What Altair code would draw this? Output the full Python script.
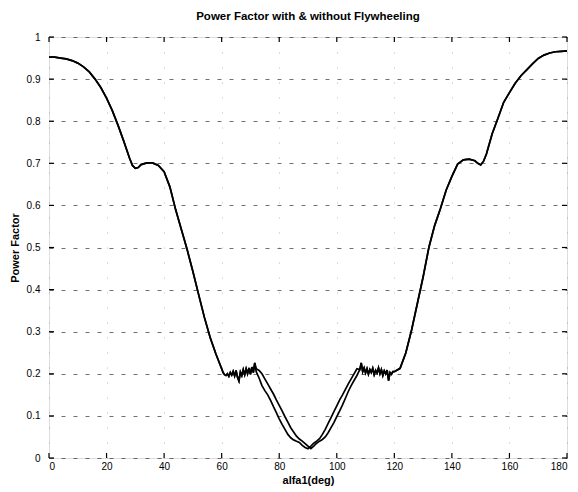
import altair as alt
import pandas as pd

# ---- data ----
alfa_left = [0, 2, 4, 6, 8, 10, 12, 14, 16, 18, 20, 22, 24, 26, 28, 29, 30, 31, 32, 34, 36, 38, 40,
             42, 44, 46, 48, 50, 52, 54, 56, 58, 60, 60.5, 61, 61.5, 62, 62.5, 63, 63.5, 64, 64.5,
             65, 65.5, 66, 66.5, 67, 67.5, 68, 68.5, 69, 69.5, 70, 70.5, 71, 71.5]
pf_left = [0.952, 0.952, 0.950, 0.948, 0.944, 0.938, 0.929, 0.917, 0.900, 0.880, 0.855, 0.825, 0.790,
           0.752, 0.712, 0.695, 0.688, 0.690, 0.697, 0.701, 0.701, 0.695, 0.680, 0.644, 0.590, 0.543,
           0.495, 0.443, 0.388, 0.334, 0.286, 0.247, 0.212, 0.203, 0.198, 0.196, 0.200, 0.194, 0.203,
           0.197, 0.206, 0.195, 0.208, 0.192, 0.183, 0.204, 0.196, 0.210, 0.198, 0.212, 0.200, 0.214,
           0.199, 0.216, 0.203, 0.226]

alfa_mid = list(range(72, 108))
pf_mid_with = [0.205, 0.190, 0.172, 0.160, 0.150, 0.137, 0.122, 0.108, 0.093, 0.080, 0.068, 0.056,
               0.048, 0.043, 0.040, 0.037, 0.030, 0.025, 0.022, 0.028, 0.035, 0.040, 0.046, 0.056,
               0.068, 0.082, 0.096, 0.110, 0.124, 0.138, 0.150, 0.163, 0.176, 0.188, 0.200, 0.212]
pf_mid_without = [0.212, 0.208, 0.200, 0.188, 0.176, 0.164, 0.152, 0.138, 0.125, 0.112, 0.098, 0.085,
                  0.072, 0.062, 0.052, 0.045, 0.040, 0.034, 0.028, 0.022, 0.028, 0.035, 0.040, 0.044,
                  0.050, 0.060, 0.072, 0.084, 0.098, 0.112, 0.126, 0.142, 0.158, 0.172, 0.184, 0.196]

alfa_right = [108, 108.5, 109, 109.5, 110, 110.5, 111, 111.5, 112, 112.5, 113, 113.5, 114, 114.5, 115,
              115.5, 116, 116.5, 117, 117.5, 118, 118.5, 119, 119.5, 120, 122, 124, 126, 128, 130, 132,
              134, 136, 138, 140, 142, 144, 146, 148, 149, 150, 151, 152, 154, 156, 158, 160, 162, 164,
              166, 168, 170, 172, 174, 176, 178, 180]
pf_right = [0.210, 0.226, 0.205, 0.214, 0.202, 0.212, 0.199, 0.210, 0.203, 0.213, 0.198, 0.208, 0.202,
            0.214, 0.200, 0.210, 0.196, 0.207, 0.200, 0.209, 0.184, 0.203, 0.199, 0.205, 0.205, 0.213,
            0.250, 0.304, 0.367, 0.430, 0.500, 0.552, 0.592, 0.636, 0.669, 0.698, 0.708, 0.710, 0.706,
            0.700, 0.696, 0.705, 0.722, 0.770, 0.807, 0.845, 0.868, 0.890, 0.908, 0.922, 0.936, 0.949,
            0.957, 0.962, 0.965, 0.966, 0.967]

x_ticks = [0, 20, 40, 60, 80, 100, 120, 140, 160, 180]
y_ticks = [0, 0.1, 0.2, 0.3, 0.4, 0.5, 0.6, 0.7, 0.8, 0.9, 1]

# ---- tables ----
alfa_all = alfa_left + alfa_mid + alfa_right
rows = []
for name, mid in (("with", pf_mid_with), ("without", pf_mid_without)):
    vals = pf_left + mid + pf_right
    for i, (a, p) in enumerate(zip(alfa_all, vals)):
        rows.append({"alfa": a, "pf": p, "series": name, "order": i})
df = pd.DataFrame(rows)

xt = pd.DataFrame({"x": x_ticks})
yt = pd.DataFrame({"y": y_ticks})

font = "Liberation Sans"
xscale = alt.Scale(domain=[0, 180], nice=False, zero=False)
yscale = alt.Scale(domain=[0, 1], nice=False, zero=False)

lines = alt.Chart(df).mark_line(color="black", strokeWidth=1.7).encode(
    x=alt.X("alfa:Q", scale=xscale,
            axis=alt.Axis(values=x_ticks, title="alfa1(deg)", grid=True, gridDash=[1, 14],
                          gridColor="#666", gridOpacity=0.45, ticks=False, tickSize=0,
                          domain=False, labelPadding=3, titlePadding=3)),
    y=alt.Y("pf:Q", scale=yscale,
            axis=alt.Axis(values=y_ticks, title="Power Factor", grid=True, gridDash=[4, 8],
                          gridColor="#333", gridOpacity=0.7, ticks=False, tickSize=0,
                          domain=False, labelPadding=9, titlePadding=6,
                          labelExpr="datum.value == 0 ? '0' : datum.value == 1 ? '1' : format(datum.value, '.1f')")),
    detail="series:N",
    order="order:Q",
)

tick_len_y = 0.012
tick_len_x = 1.75

bottom_ticks = alt.Chart(xt).mark_rule(color="black", strokeWidth=1.2).encode(
    x=alt.X("x:Q", scale=xscale), y=alt.datum(0), y2=alt.datum(tick_len_y))
top_ticks = alt.Chart(xt).mark_rule(color="black", strokeWidth=1.2).encode(
    x=alt.X("x:Q", scale=xscale), y=alt.datum(1), y2=alt.datum(1 - tick_len_y))
left_ticks = alt.Chart(yt).mark_rule(color="black", strokeWidth=1.2).encode(
    y=alt.Y("y:Q", scale=yscale), x=alt.datum(0), x2=alt.datum(tick_len_x))
right_ticks = alt.Chart(yt).mark_rule(color="black", strokeWidth=1.2).encode(
    y=alt.Y("y:Q", scale=yscale), x=alt.datum(180), x2=alt.datum(180 - tick_len_x))

chart = alt.layer(lines, bottom_ticks, top_ticks, left_ticks, right_ticks).properties(
    width=518,
    height=421,
    autosize=alt.AutoSizeParams(type="none"),
    padding={"left": 49, "top": 37, "right": 11, "bottom": 34},
    title=alt.Title("Power Factor with & without  Flywheeling", fontSize=11.5, font=font,
                    fontWeight="bold", offset=10, anchor="middle"),
).configure_view(
    stroke="black", strokeWidth=1.5
).configure_axis(
    labelFont=font, titleFont=font, labelFontSize=10, titleFontSize=9.5,
    labelFontWeight="bold", titleFontWeight="bold", labelColor="black", titleColor="black",
).configure(background="white")

chart.save("out.html", embed_options={"renderer": "svg", "actions": False})
